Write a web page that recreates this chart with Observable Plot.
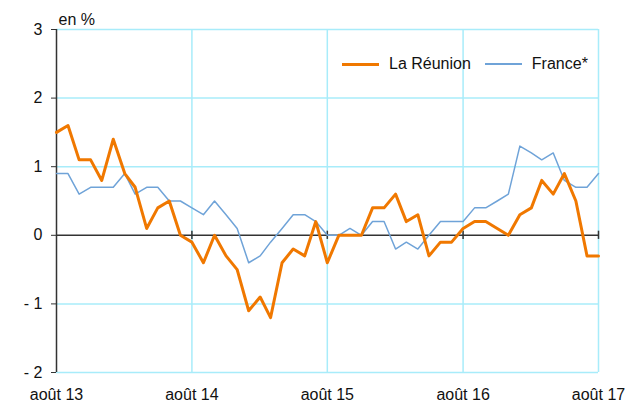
<!DOCTYPE html>
<html>
<head>
<meta charset="utf-8">
<script src="https://cdn.jsdelivr.net/npm/d3@7"></script>
<script src="https://cdn.jsdelivr.net/npm/@observablehq/plot@0.6"></script>
<style>
  body { margin: 0; background: #fff; }
  #wrap { position: relative; width: 627px; height: 403px; font-family: "Liberation Sans", Arial, sans-serif; }
  #legend { position: absolute; left: 342px; top: 55px; font-size: 16px; line-height: 18px; color: #111; display: flex; align-items: center; white-space: nowrap; }
  .sw { display: inline-block; width: 37px; margin-right: 10px; }
  .item { display: flex; align-items: center; }
</style>
</head>
<body>
<div id="wrap"><div id="legend"></div></div>
<script>
// Monthly series, août 2013 → août 2017 (49 months)
const startMonth = "2013-08-01";
const reunion = [1.5, 1.6, 1.1, 1.1, 0.8, 1.4, 0.9, 0.7, 0.1, 0.4, 0.5, 0.0,
  -0.1, -0.4, 0.0, -0.3, -0.5, -1.1, -0.9, -1.2, -0.4, -0.2, -0.3, 0.2,
  -0.4, 0.0, 0.0, 0.0, 0.4, 0.4, 0.6, 0.2, 0.3, -0.3, -0.1, -0.1,
  0.1, 0.2, 0.2, 0.1, 0.0, 0.3, 0.4, 0.8, 0.6, 0.9, 0.5, -0.3, -0.3];
const france = [0.9, 0.9, 0.6, 0.7, 0.7, 0.7, 0.9, 0.6, 0.7, 0.7, 0.5, 0.5,
  0.4, 0.3, 0.5, 0.3, 0.1, -0.4, -0.3, -0.1, 0.1, 0.3, 0.3, 0.2,
  0.0, 0.0, 0.1, 0.0, 0.2, 0.2, -0.2, -0.1, -0.2, 0.0, 0.2, 0.2,
  0.2, 0.4, 0.4, 0.5, 0.6, 1.3, 1.2, 1.1, 1.2, 0.8, 0.7, 0.7, 0.9];
const seriesNames = ["La Réunion", "France*"];
const seriesColors = ["#F07800", "#6FA3D8"];
const yTicks = [-2, -1, 0, 1, 2, 3];
const xTickLabels = ["août 13", "août 14", "août 15", "août 16", "août 17"];
const yLabel = "en %";

const start = new Date(startMonth + "T00:00:00Z");
const months = d3.range(reunion.length).map(i => d3.utcMonth.offset(start, i));
const rows = [];
months.forEach((d, i) => {
  rows.push({date: d, value: reunion[i], serie: seriesNames[0]});
  rows.push({date: d, value: france[i], serie: seriesNames[1]});
});
const xTicks = xTickLabels.map((_, i) => d3.utcYear.offset(start, i));
const grid = "#A8ECFA";

const chart = Plot.plot({
  width: 627,
  height: 403,
  marginLeft: 56,
  marginRight: 29,
  marginTop: 29,
  marginBottom: 31,
  style: {fontFamily: "Liberation Sans, Arial, sans-serif", fontSize: "16px", color: "#111", background: "#fff"},
  x: {type: "utc", domain: [xTicks[0], xTicks[xTicks.length - 1]]},
  y: {domain: [-2, 3]},
  marks: [
    Plot.ruleY(yTicks.filter(v => v !== 0), {stroke: grid, strokeWidth: 1.5}),
    Plot.ruleX(xTicks.slice(1), {stroke: grid, strokeWidth: 1.5}),
    Plot.ruleY([0], {stroke: "#333", strokeWidth: 1.5}),
    Plot.ruleX(xTicks.slice(1), {y1: -0.06, y2: 0.06, stroke: "#333", strokeWidth: 1.5}),
    Plot.ruleX([xTicks[0]], {stroke: "#333", strokeWidth: 1.5}),
    Plot.axisY({ticks: yTicks, tickSize: 5, tickPadding: 9, label: null, fontSize: 16,
      tickFormat: d => d < 0 ? "- " + (-d) : String(d), stroke: "#333"}),
    Plot.axisX({ticks: xTicks, tickSize: 0, tickPadding: 16, label: null, fontSize: 16,
      tickFormat: (d, i) => xTickLabels[i]}),
    Plot.text([yLabel], {frameAnchor: "top-left", dx: 2, dy: -16, text: d => d, fontSize: 16, textAnchor: "start"}),
    Plot.line(rows.filter(r => r.serie === seriesNames[1]), {x: "date", y: "value", stroke: seriesColors[1], strokeWidth: 1.5}),
    Plot.line(rows.filter(r => r.serie === seriesNames[0]), {x: "date", y: "value", stroke: seriesColors[0], strokeWidth: 3})
  ]
});
const wrap = document.getElementById("wrap");
wrap.insertBefore(chart, wrap.firstChild);

const legend = document.getElementById("legend");
seriesNames.forEach((name, i) => {
  const item = document.createElement("span");
  item.className = "item";
  item.style.marginRight = i === 0 ? "14px" : "0";
  const sw = document.createElement("span");
  sw.className = "sw";
  sw.style.borderTop = (i === 0 ? 3 : 2) + "px solid " + seriesColors[i];
  item.appendChild(sw);
  item.appendChild(document.createTextNode(name));
  legend.appendChild(item);
});
</script>
</body>
</html>
